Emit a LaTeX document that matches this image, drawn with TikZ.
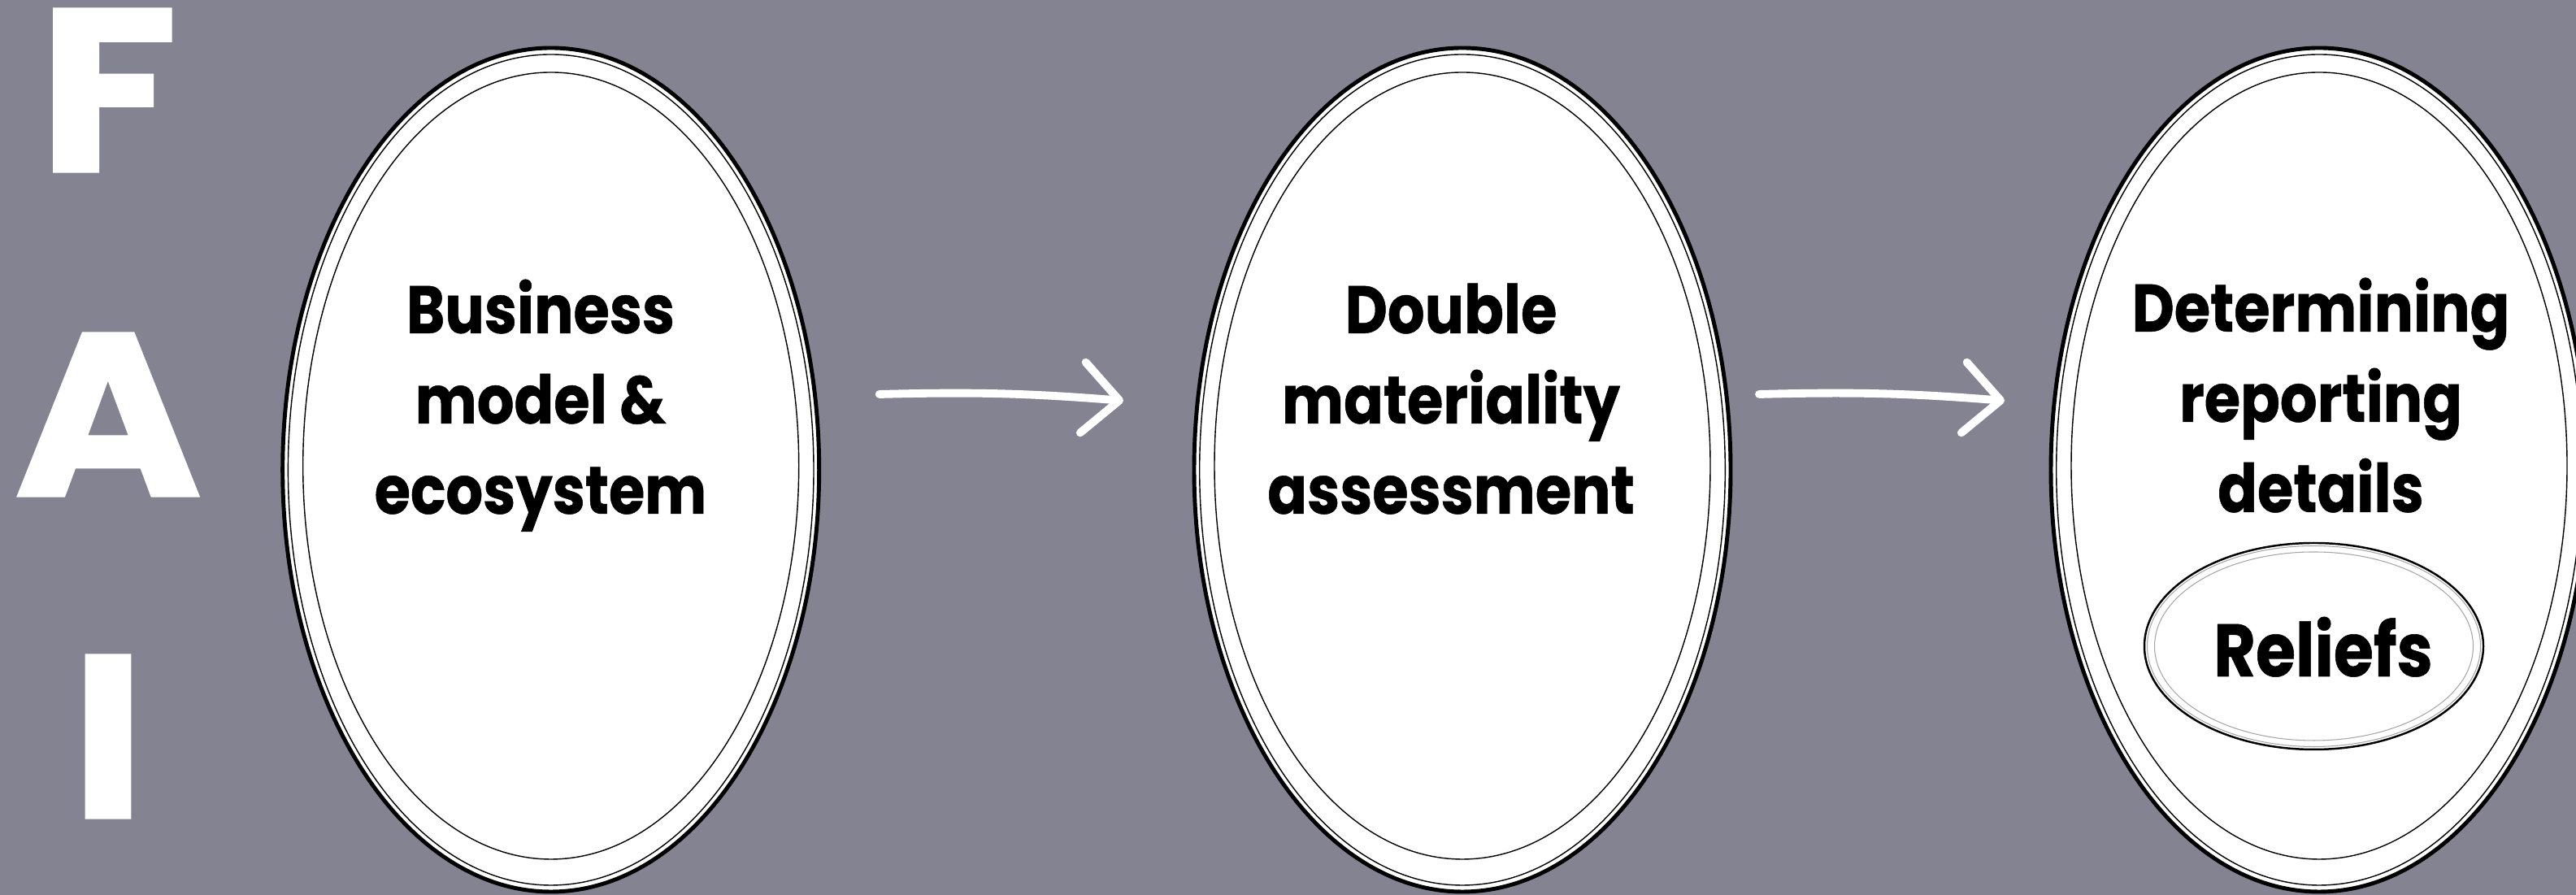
\documentclass[tikz,border=0pt]{standalone}
\usepackage{fontspec}
\setmainfont{Poppins}
\newfontfamily\stagefont{Poppins}[FakeStretch=0.87, FakeBold=0.6]
\newfontfamily\capfont{Poppins}[FakeStretch=1.1, FakeBold=1.2]
\usetikzlibrary{shapes.geometric,arrows.meta}
\definecolor{slate}{RGB}{132,131,146}

\begin{document}
\begin{tikzpicture}[
		stage/.style={ellipse, draw, fill=white, line width=1.4pt, inner sep=0pt, outer sep=0pt, minimum width=6.6cm, minimum height=10.38cm},
		caption/.style={align=center, anchor=base, font=\stagefont\bfseries\fontsize{23.5}{31.6}\selectfont},
		bigletter/.style={text=white, anchor=base, font=\capfont\bfseries\fontsize{81}{81}\selectfont},
		brush/.style={white, line width=2.8pt, line cap=round, -{Straight Barb[length=4.5mm, width=8.7mm, round]}}]
		\fill [slate] (0, 0) rectangle (31.69, 11.01);
		\useasboundingbox (0, 0) rectangle (31.69, 11.01);
		% letters down the left side
		\node [bigletter] (f) at (1.33, 8.90) {F};
		\node [bigletter] (a) at (1.33, 4.91) {A};
		\node [bigletter] (i) at (1.33, 0.95) {I};
		% the three stages
		\node [stage] (biz) at (6.777, 5.23) {};
		\node [stage] (dma) at (17.99, 5.23) {};
		\node [stage] (rep) at (28.53, 5.23) {};
		\foreach \n in {biz, dma, rep} {
			\draw [line width=.4pt] (\n.center) ellipse [x radius=3.233, y radius=5.11];
			\draw [line width=.4pt] ([yshift=.05cm]\n.center) ellipse [x radius=3.05, y radius=4.84];
		}
		\node [caption] (biztext) at (6.65, 4.69) {Business\\model \&\\ecosystem};
		\node [caption] (dmatext) at (17.85, 4.69) {Double\\materiality\\assessment};
		\node [caption] (reptext) at (28.55, 4.71) {Determining\\reporting\\details};
		% small oval inside the last stage
		\node [ellipse, draw, fill=white, line width=.7pt, inner sep=0pt, minimum width=4.17cm, minimum height=2.54cm] (relief) at (28.465, 3.06) {};
		\draw [gray!70, line width=.3pt] (relief.center) ellipse [x radius=2.05, y radius=1.235];
		\draw [gray!70, line width=.3pt] (relief.center) ellipse [x radius=1.96, y radius=1.16];
		\node [caption, font=\stagefont\bfseries\fontsize{26}{31.6}\selectfont] (relieftext) at (28.58, 2.69) {Reliefs};
		% arrows between the stages
		\draw [brush] ([shift={(.74, .93)}]biz.east) to [bend left=3] ([shift={(-.87, .85)}]dma.west);
		\draw [brush] ([shift={(.35, .93)}]dma.east) to [bend left=3] ([shift={(-.57, .85)}]rep.west);
	\end{tikzpicture}
\end{document}
